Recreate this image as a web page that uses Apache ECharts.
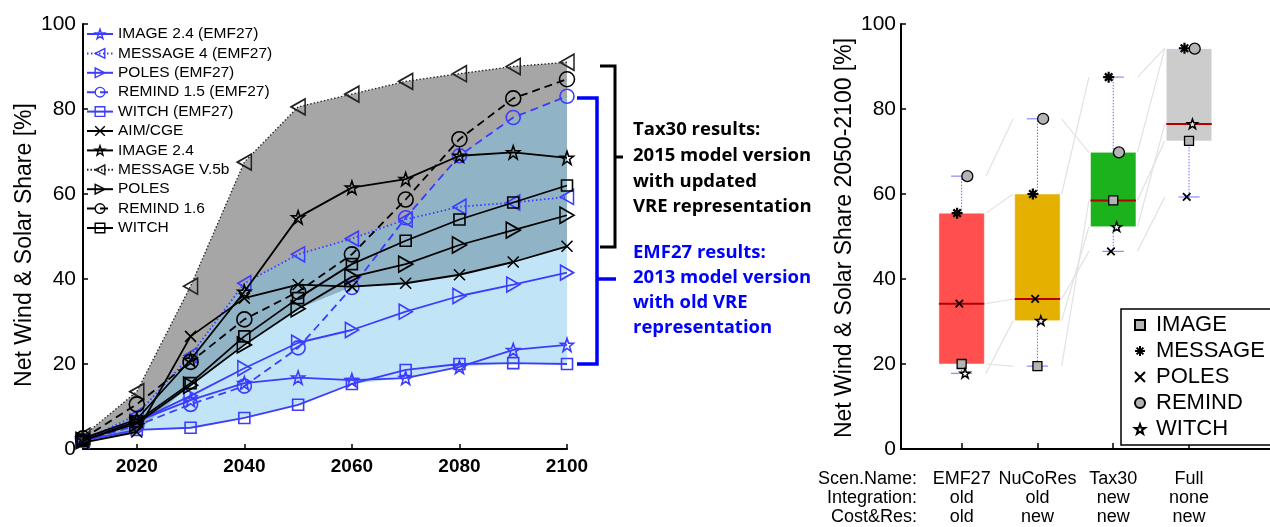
<!DOCTYPE html>
<html><head><meta charset="utf-8">
<script src="https://cdn.jsdelivr.net/npm/echarts@6/dist/echarts.min.js"></script>
<style>html,body{margin:0;padding:0;background:#fff}#c{width:1270px;height:527px}</style>
</head><body><div id="c"></div>
<script>
// ---------- LEFT PANEL DATA ----------
const years = [2010, 2020, 2030, 2040, 2050, 2060, 2070, 2080, 2090, 2100];
const xTickYears = [2020, 2040, 2060, 2080, 2100];
// EMF27 results (2013 model versions)
const image24Emf27  = [2.5, 6.5, 11.5, 15.5, 16.8, 16.2, 16.7, 19.3, 23.3, 24.5];
const message4Emf27 = [2, 8, 22, 39, 45.8, 49.5, 54, 57, 58, 59.3];
const polesEmf27    = [2, 6.5, 12.5, 19, 25, 28, 32.3, 36, 38.7, 41.5];
const remind15Emf27 = [2, 5.5, 10.5, 14.8, 23.8, 38, 54.4, 69, 78, 83];
const witchEmf27    = [2, 4.5, 5, 7.3, 10.4, 15.3, 18.6, 20, 20.2, 20];
// Tax30 results (2015 model versions)
const aimCge     = [1.5, 4, 26.5, 35.5, 38.7, 38.2, 39, 41, 44, 47.7];
const image24    = [2.5, 7, 21, 37, 54.5, 61.5, 63.5, 69, 69.8, 68.5];
const messageV5b = [3, 13.5, 38.3, 67.5, 80.5, 83.5, 86.5, 88.3, 90, 91];
const poles      = [2, 6, 15, 24.5, 33, 40.5, 43.5, 48, 51.5, 55];
const remind16   = [2.5, 10.5, 20.5, 30.5, 37, 45.8, 58.7, 72.9, 82.5, 87];
const witch      = [2, 6.5, 15.5, 26.5, 35.5, 43.5, 49, 54, 58, 62];

// ---------- RIGHT PANEL DATA ----------
const scenNames   = ['EMF27', 'NuCoRes', 'Tax30', 'Full'];
const integration = ['old', 'old', 'new', 'none'];
const costRes     = ['old', 'new', 'new', 'new'];
const shareImage   = [20, 19.5, 58.5, 72.5];
const shareMessage = [55.5, 60, 87.5, 94.3];
const sharePoles   = [34.2, 35.3, 46.5, 59.3];
const shareRemind  = [64.2, 77.7, 69.8, 94.2];
const shareWitch   = [17.8, 30.2, 52.3, 76.5];

// ---------- STYLES ----------
const BLUE = '#3c3cff';
const FONT = 'Liberation Sans';
const SYM = {
  star: 'path://M5 0L6.18 3.38L9.76 3.45L6.9 5.62L7.94 9.05L5 7L2.06 9.05L3.1 5.62L0.24 3.45L3.82 3.38Z',
  triL: 'path://M0 5L10 0L10 10Z',
  triR: 'path://M10 5L0 0L0 10Z',
  square: 'path://M0 0L10 0L10 10L0 10Z',
  cross: 'path://M0 0L10 10M10 0L0 10',
  aster: 'path://M5 0L5 10M0 5L10 5M1.6 1.6L8.4 8.4M8.4 1.6L1.6 8.4'
};

const leftDefs = [
  {name: 'IMAGE 2.4 (EMF27)',  data: image24Emf27,  color: BLUE, type: 'solid',  sym: SYM.star,   size: 13},
  {name: 'MESSAGE 4 (EMF27)',  data: message4Emf27, color: BLUE, type: [1.5, 2.5], sym: SYM.triL, size: [13, 15]},
  {name: 'POLES (EMF27)',      data: polesEmf27,    color: BLUE, type: 'solid',  sym: SYM.triR,   size: [13, 15]},
  {name: 'REMIND 1.5 (EMF27)', data: remind15Emf27, color: BLUE, type: [8, 5],  sym: 'circle',   size: 14},
  {name: 'WITCH (EMF27)',      data: witchEmf27,    color: BLUE, type: 'solid',  sym: SYM.square, size: 11},
  {name: 'AIM/CGE',            data: aimCge,        color: '#000', type: 'solid', sym: SYM.cross,  size: 11},
  {name: 'IMAGE 2.4',          data: image24,       color: '#000', type: 'solid', sym: SYM.star,   size: 13},
  {name: 'MESSAGE V.5b',       data: messageV5b,    color: '#222', type: [1.5, 2], sym: SYM.triL,  size: [14, 16], width: 1.3},
  {name: 'POLES',              data: poles,         color: '#000', type: 'solid', sym: SYM.triR,   size: [14, 16]},
  {name: 'REMIND 1.6',         data: remind16,      color: '#000', type: [8, 5], sym: 'circle',    size: 15},
  {name: 'WITCH',              data: witch,         color: '#000', type: 'solid', sym: SYM.square, size: 11}
];

const rightDefs = [
  {name: 'r:IMAGE',   data: shareImage,   sym: 'rect',    size: 9,  fill: '#b4b4b4', bw: 1.3, off: 0},
  {name: 'r:MESSAGE', data: shareMessage, sym: SYM.aster, size: 11, fill: '#000',    bw: 2.2, off: -0.06},
  {name: 'r:POLES',   data: sharePoles,   sym: SYM.cross, size: 7.5, fill: '#000',   bw: 1.8, off: -0.03},
  {name: 'r:REMIND',  data: shareRemind,  sym: 'circle',  size: 11, fill: '#b4b4b4', bw: 1.3, off: 0.075},
  {name: 'r:WITCH',   data: shareWitch,   sym: SYM.star,  size: 10, fill: '#ffffff', bw: 1.5, off: 0.045}
];
const boxColors = ['#ff4f4f', '#e5b100', '#1cb21c', '#cccccc'];

// ---------- helpers ----------
function bandSeries(list, fill, z) {
  const upper = years.map((y, i) => Math.max(...list.map(s => s[i])));
  const lower = years.map((y, i) => Math.min(...list.map(s => s[i])));
  return {
    type: 'custom', coordinateSystem: 'cartesian2d', xAxisIndex: 0, yAxisIndex: 0,
    z: z, silent: true, data: [[years[0], 0]],
    renderItem: function (params, api) {
      const pts = years.map((y, i) => api.coord([y, upper[i]]));
      for (let i = years.length - 1; i >= 0; i--) pts.push(api.coord([years[i], lower[i]]));
      return {type: 'polygon', shape: {points: pts}, style: {fill: fill}};
    }
  };
}

const stats = scenNames.map((s, i) => {
  const v = rightDefs.map(d => d.data[i]).sort((a, b) => a - b);
  return {min: v[0], q1: v[1], med: v[2], q3: v[3], max: v[4]};
});

const series = [];
series.push(bandSeries([aimCge, image24, messageV5b, poles, remind16, witch], '#a6a6a6', 1));
series.push(bandSeries([image24Emf27, message4Emf27, polesEmf27, remind15Emf27, witchEmf27], 'rgba(117,197,238,0.45)', 2));

leftDefs.forEach((d, k) => {
  series.push({
    type: 'line', name: d.name, xAxisIndex: 0, yAxisIndex: 0, z: 5 + k,
    data: years.map((y, i) => [y, d.data[i]]),
    symbol: d.sym, symbolSize: d.size, showAllSymbol: true,
    itemStyle: {color: 'rgba(0,0,0,0)', borderColor: d.color, borderWidth: 1.6},
    lineStyle: {color: d.color, width: d.width || 1.8, type: d.type},
    emphasis: {disabled: true}
  });
});

// right: connecting light gray lines
series.push({
  type: 'custom', coordinateSystem: 'cartesian2d', xAxisIndex: 1, yAxisIndex: 1, z: 1, silent: true,
  data: rightDefs.map((d, k) => [1, k]),
  renderItem: function (params, api) {
    const d = rightDefs[params.dataIndex];
    const children = [];
    for (let i = 0; i < scenNames.length - 1; i++) {
      const a = api.coord([i + 1 + 0.32, d.data[i]]);
      const b = api.coord([i + 2 - 0.32, d.data[i + 1]]);
      children.push({type: 'line', shape: {x1: a[0], y1: a[1], x2: b[0], y2: b[1]}, style: {stroke: '#e2e2e2', lineWidth: 1.2}});
    }
    return {type: 'group', children: children};
  }
});
// right: boxes + whiskers
series.push({
  type: 'custom', coordinateSystem: 'cartesian2d', xAxisIndex: 1, yAxisIndex: 1, z: 3, silent: true,
  data: scenNames.map((s, i) => [i + 1, stats[i].med]),
  renderItem: function (params, api) {
    const i = params.dataIndex, x = i + 1, st = stats[i];
    const tl = api.coord([x - 0.3, st.q3]), br = api.coord([x + 0.3, st.q1]);
    const c = api.coord([x, 0])[0];
    const ml = api.coord([x - 0.3, st.med]), mr = api.coord([x + 0.3, st.med]);
    const yMin = api.coord([x, st.min])[1], yMax = api.coord([x, st.max])[1];
    const cl = api.coord([x - 0.14, 0])[0], cr = api.coord([x + 0.14, 0])[0];
    const wh = {stroke: '#6a6aff', lineWidth: 1, lineDash: [1.5, 1.5]};
    const cap = {stroke: '#8a8aff', lineWidth: 1.2};
    return {type: 'group', children: [
      {type: 'rect', shape: {x: tl[0], y: tl[1], width: br[0] - tl[0], height: br[1] - tl[1]}, style: {fill: boxColors[i], stroke: 'rgba(255,255,255,0.5)', lineWidth: 1}},
      {type: 'line', shape: {x1: c, y1: tl[1], x2: c, y2: yMax}, style: wh},
      {type: 'line', shape: {x1: c, y1: br[1], x2: c, y2: yMin}, style: wh},
      {type: 'line', shape: {x1: cl, y1: yMax, x2: cr, y2: yMax}, style: cap},
      {type: 'line', shape: {x1: cl, y1: yMin, x2: cr, y2: yMin}, style: cap},
      {type: 'line', shape: {x1: ml[0], y1: ml[1], x2: mr[0], y2: mr[1]}, style: {stroke: '#b00000', lineWidth: 2}}
    ]};
  }
});
rightDefs.forEach((d, k) => {
  series.push({
    type: 'scatter', name: d.name, xAxisIndex: 1, yAxisIndex: 1, z: 10 + k,
    data: scenNames.map((s, i) => [i + 1 + d.off, d.data[i]]),
    symbol: d.sym, symbolSize: d.size, symbolKeepAspect: true,
    itemStyle: {color: d.fill, borderColor: '#000', borderWidth: d.bw, opacity: 1},
    emphasis: {disabled: true}
  });
});

const axisLineStyle = {color: '#000', width: 2};
const option = {
  animation: false,
  textStyle: {fontFamily: FONT},
  grid: [
    {left: 83, top: 24, width: 484, height: 425},
    {left: 901, top: 24, width: 370, height: 425}
  ],
  xAxis: [
    {gridIndex: 0, type: 'value', min: 2010, max: 2100,
     axisLine: {onZero: false, lineStyle: axisLineStyle},
     axisTick: {inside: true, length: 5, customValues: xTickYears, lineStyle: {color: '#000', width: 1.5}},
     axisLabel: {customValues: xTickYears, fontSize: 19, fontWeight: 'bold', color: '#000', margin: 8, fontFamily: FONT,
       formatter: v => String(v)},
     splitLine: {show: false}},
    {gridIndex: 1, type: 'value', min: 0.2, max: 0.2 + 370 / 76,
     axisLine: {onZero: false, lineStyle: axisLineStyle},
     axisTick: {inside: true, length: 6, customValues: [1, 2, 3, 4], lineStyle: {color: '#000', width: 1.5}},
     axisLabel: {customValues: [1, 2, 3, 4], fontSize: 18, lineHeight: 19, color: '#000', margin: 21, fontFamily: FONT,
       formatter: v => { const i = Math.round(v) - 1; return scenNames[i] + '\n' + integration[i] + '\n' + costRes[i]; }},
     splitLine: {show: false}}
  ],
  yAxis: [
    {gridIndex: 0, type: 'value', min: 0, max: 100, interval: 20,
     axisLine: {show: true, onZero: false, lineStyle: axisLineStyle},
     axisTick: {show: true, inside: true, length: 5, lineStyle: {color: '#000', width: 1.5}},
     axisLabel: {fontSize: 21, color: '#000', margin: 7, fontFamily: FONT},
     splitLine: {show: false}},
    {gridIndex: 1, type: 'value', min: 0, max: 100, interval: 20,
     axisLine: {show: true, onZero: false, lineStyle: axisLineStyle},
     axisTick: {show: true, inside: true, length: 5, lineStyle: {color: '#000', width: 1.5}},
     axisLabel: {fontSize: 21, color: '#000', margin: 5, fontFamily: FONT},
     splitLine: {show: false}}
  ],
  legend: [
    {data: leftDefs.map(d => d.name), orient: 'vertical', left: 86, top: 26, padding: 0,
     itemWidth: 26, itemHeight: 12, itemGap: 3.4, selectedMode: false,
     itemStyle: {color: 'rgba(0,0,0,0)', borderWidth: 1.4},
     textStyle: {fontSize: 15.5, lineHeight: 15, color: '#000', fontFamily: FONT}},
    {data: rightDefs.map(d => d.name), orient: 'vertical', left: 1121, top: 309,
     padding: [5, 150, 5, 13], borderColor: '#000', borderWidth: 1.5, backgroundColor: '#fff',
     itemWidth: 10, itemHeight: 10, itemGap: 4, selectedMode: false,
     formatter: n => n.slice(2),
     textStyle: {fontSize: 22, lineHeight: 22, color: '#000', fontFamily: FONT, padding: [0, 0, 0, 6]}}
  ],
  graphic: [
    {type: 'text', x: 25, y: 245, rotation: Math.PI / 2, silent: true,
     style: {text: 'Net Wind & Solar Share [%]', fontSize: 23, fontFamily: FONT, fill: '#000', align: 'center', verticalAlign: 'middle'}},
    {type: 'text', x: 845, y: 238, rotation: Math.PI / 2, silent: true,
     style: {text: 'Net Wind & Solar Share 2050-2100 [%]', fontSize: 23, fontFamily: FONT, fill: '#000', align: 'center', verticalAlign: 'middle'}},
    {type: 'text', x: 917, y: 470, silent: true,
     style: {text: 'Scen.Name:\nIntegration:\nCost&Res:', fontSize: 18, lineHeight: 19, fontFamily: FONT, fill: '#000', align: 'right', verticalAlign: 'top'}},
    {type: 'polyline', silent: true, shape: {points: [[600, 66], [615, 66], [615, 247], [600, 247]]}, style: {stroke: '#000', lineWidth: 3, fill: null}},
    {type: 'line', silent: true, shape: {x1: 615, y1: 157, x2: 623, y2: 157}, style: {stroke: '#000', lineWidth: 3}},
    {type: 'polyline', silent: true, shape: {points: [[577, 98], [597, 98], [597, 364], [577, 364]]}, style: {stroke: '#0000ff', lineWidth: 3.5, fill: null}},
    {type: 'line', silent: true, shape: {x1: 597, y1: 279, x2: 616, y2: 279}, style: {stroke: '#0000ff', lineWidth: 3.5}},
    {type: 'text', x: 633, y: 117, silent: true,
     style: {text: 'Tax30 results:\n2015 model version\nwith updated\nVRE representation', fontSize: 18.5, fontWeight: 'bold', fontFamily: 'Open Sans', lineHeight: 25.7, fill: '#000'}},
    {type: 'text', x: 633, y: 240, silent: true,
     style: {text: 'EMF27 results:\n2013 model version\nwith old VRE\nrepresentation', fontSize: 18.5, fontWeight: 'bold', fontFamily: 'Open Sans', lineHeight: 25, fill: '#0000ff'}}
  ],
  series: series
};
const chart = echarts.init(document.getElementById('c'), null, {renderer: 'canvas'});
chart.setOption(option);
</script></body></html>
